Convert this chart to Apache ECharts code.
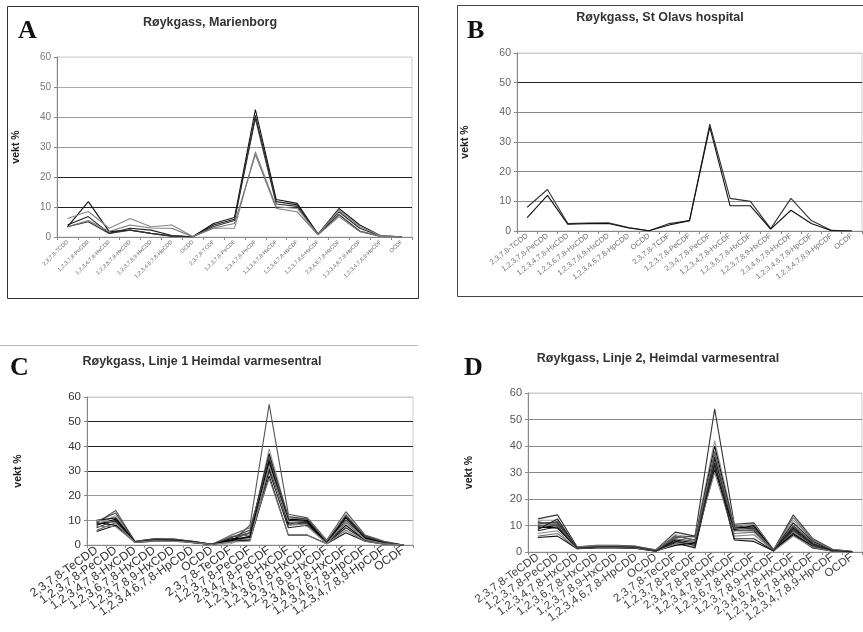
<!DOCTYPE html>
<html><head><meta charset="utf-8">
<script src="https://cdn.jsdelivr.net/npm/echarts@6/dist/echarts.min.js"></script>
<style>html,body{margin:0;padding:0;background:#fff}#c{width:863px;height:632px}</style>
</head><body><div id="c"></div>
<script>
// Categories
const catsTCDD = ['2,3,7,8-TCDD','1,2,3,7,8-PeCDD','1,2,3,4,7,8-HxCDD','1,2,3,6,7,8-HxCDD','1,2,3,7,8,9-HxCDD','1,2,3,4,6,7,8-HpCDD','OCDD','2,3,7,8-TCDF','1,2,3,7,8-PeCDF','2,3,4,7,8-PeCDF','1,2,3,4,7,8-HxCDF','1,2,3,6,7,8-HxCDF','1,2,3,7,8,9-HxCDF','2,3,4,6,7,8-HxCDF','1,2,3,4,6,7,8-HpCDF','1,2,3,4,7,8,9-HpCDF','OCDF'];
const catsTeCDD = ['2,3,7,8-TeCDD','1,2,3,7,8-PeCDD','1,2,3,4,7,8-HxCDD','1,2,3,6,7,8-HxCDD','1,2,3,7,8,9-HxCDD','1,2,3,4,6,7,8-HpCDD','OCDD','2,3,7,8-TeCDF','1,2,3,7,8-PeCDF','2,3,4,7,8-PeCDF','1,2,3,4,7,8-HxCDF','1,2,3,6,7,8-HxCDF','1,2,3,7,8,9-HxCDF','2,3,4,6,7,8-HxCDF','1,2,3,4,6,7,8-HpCDF','1,2,3,4,7,8,9-HpCDF','OCDF'];
const yTicks = [0,10,20,30,40,50,60];

// Panel A: Røykgass, Marienborg
const A1 = [3.4, 11.8, 1.8, 2.3, 1.2, 0.3, 0.1, 4.5, 6.5, 42.5, 12.5, 11.2, 1.0, 9.5, 4.0, 0.4, 0.1];
const A2 = [4.0, 6.8, 1.2, 2.9, 2.3, 0.5, 0.1, 4.0, 5.9, 40.5, 11.8, 10.7, 0.9, 8.4, 2.9, 0.3, 0.1];
const A3 = [3.4, 5.1, 1.2, 2.3, 1.2, 0.3, 0.1, 3.5, 5.5, 39.5, 11.0, 10.2, 0.8, 7.5, 2.0, 0.2, 0.1];
const A4 = [6.2, 8.5, 2.9, 6.2, 3.4, 4.0, 0.2, 2.9, 2.9, 28.4, 10.1, 9.5, 0.8, 9.0, 3.5, 0.4, 0.1];
const A5 = [3.4, 5.5, 1.8, 4.0, 3.0, 2.9, 0.1, 3.0, 4.5, 27.5, 9.5, 8.4, 0.7, 6.8, 1.8, 0.2, 0.1];

// Panel B: Røykgass, St Olavs hospital
const B1 = [8.0, 14.0, 2.5, 2.7, 2.8, 1.2, 0.1, 2.5, 3.5, 36, 11.0, 10.0, 0.8, 11.0, 3.5, 0.2, 0];
const B2 = [4.5, 12.0, 2.3, 2.5, 2.5, 1.0, 0.1, 2.0, 3.5, 35, 8.5, 8.5, 0.6, 7.0, 2.5, 0.1, 0];

// Panel C: Røykgass, Linje 1 Heimdal varmesentral
const C1 = [9.0, 14.0, 1.5, 2.5, 2.5, 1.5, 0.3, 1.0, 8.0, 57, 12.5, 11.0, 2.0, 13.5, 4.0, 1.5, 0];
const C2 = [8.0, 12.0, 1.2, 2.0, 2.2, 1.2, 0.2, 0.5, 4.0, 39, 11.0, 10.5, 1.5, 12.5, 3.0, 1.0, 0];
const C3 = [10.0, 11.0, 1.3, 2.0, 2.0, 1.5, 0.3, 2.0, 5.0, 37, 10.0, 9.5, 1.0, 11.5, 3.5, 1.0, 0];
const C4 = [7.0, 10.0, 1.0, 1.8, 1.8, 1.0, 0.2, 3.0, 6.0, 35, 9.0, 9.0, 1.0, 10.0, 3.0, 0.8, 0];
const C5 = [6.0, 9.0, 1.1, 1.5, 1.5, 1.0, 0.2, 4.0, 7.0, 33, 8.0, 8.5, 0.8, 9.0, 2.5, 0.5, 0];
const C6 = [9.0, 8.0, 1.2, 2.0, 2.0, 1.3, 0.3, 2.5, 3.0, 31, 10.5, 10.0, 0.7, 8.0, 2.0, 0.5, 0];
const C7 = [8.5, 9.5, 1.0, 1.5, 1.7, 1.1, 0.2, 1.5, 2.0, 30, 7.0, 8.0, 0.6, 7.0, 2.0, 0.4, 0];
const C8 = [5.5, 8.0, 1.3, 2.2, 2.0, 0.9, 0.2, 2.0, 2.0, 28, 4.0, 4.0, 0.5, 5.0, 1.5, 0.3, 0];
const C9 = [7.5, 7.5, 1.0, 1.5, 1.5, 1.0, 0.2, 3.5, 4.0, 27, 4.0, 4.0, 0.5, 6.0, 1.5, 0.3, 0];
const C10 = [9.5, 13.0, 1.4, 2.5, 2.3, 1.4, 0.3, 3.0, 5.0, 36, 11.5, 10.5, 1.2, 12.0, 3.5, 1.2, 0];
const C11 = [8.0, 10.5, 1.2, 1.8, 1.9, 1.2, 0.2, 1.8, 3.5, 34, 8.5, 9.0, 0.9, 11.0, 2.8, 0.8, 0];
const C12 = [10.0, 9.0, 1.1, 1.7, 1.6, 1.1, 0.2, 1.2, 1.5, 32, 9.5, 7.5, 0.6, 9.5, 2.2, 0.6, 0];

// Panel D: Røykgass, Linje 2, Heimdal varmesentral
const D1 = [12.5, 14.0, 2.0, 2.5, 2.5, 2.2, 0.8, 7.5, 6.0, 54, 10.5, 11.0, 0.8, 14.0, 5.0, 1.0, 0.2];
const D2 = [12.0, 12.0, 1.8, 2.3, 2.3, 2.0, 0.6, 6.5, 5.5, 42, 10.0, 10.5, 0.6, 12.0, 4.5, 0.8, 0.2];
const D3 = [11.0, 11.0, 1.5, 2.0, 2.0, 1.8, 0.5, 6.0, 4.5, 40, 9.0, 9.5, 0.5, 11.0, 4.0, 0.7, 0.2];
const D4 = [10.0, 10.5, 1.5, 2.0, 2.0, 1.7, 0.5, 5.0, 4.0, 38, 8.5, 9.0, 0.5, 10.0, 3.5, 0.6, 0.1];
const D5 = [9.0, 10.0, 1.4, 1.8, 1.9, 1.6, 0.4, 4.5, 3.5, 36, 9.5, 8.5, 0.5, 9.0, 3.0, 0.5, 0.1];
const D6 = [8.0, 9.5, 1.3, 1.7, 1.8, 1.5, 0.4, 4.0, 3.0, 35, 8.0, 8.0, 0.4, 8.5, 2.5, 0.5, 0.1];
const D7 = [6.0, 7.0, 1.2, 1.6, 1.6, 1.4, 0.3, 3.0, 2.0, 34, 7.0, 7.5, 0.4, 7.5, 2.0, 0.4, 0.1];
const D8 = [5.5, 6.0, 1.2, 1.5, 1.5, 1.3, 0.3, 3.5, 1.5, 33, 4.5, 4.0, 0.4, 6.5, 1.5, 0.3, 0.1];
const D9 = [10.5, 11.5, 1.6, 2.1, 2.1, 1.9, 0.5, 5.5, 6.0, 32, 10.0, 9.0, 0.6, 8.0, 2.5, 0.5, 0.1];
const D10 = [9.5, 9.0, 1.5, 1.9, 1.9, 1.7, 0.5, 2.5, 3.5, 31, 8.5, 10.0, 0.5, 7.0, 2.0, 0.4, 0.1];
const D11 = [7.0, 8.0, 1.3, 1.7, 1.7, 1.5, 0.4, 3.0, 4.0, 30, 6.0, 6.5, 0.4, 6.0, 1.8, 0.3, 0.1];
const D12 = [11.5, 10.0, 1.7, 2.2, 2.2, 2.0, 0.6, 6.0, 4.5, 37, 9.0, 8.5, 0.6, 13.0, 4.5, 0.9, 0.2];
const D13 = [8.5, 12.5, 1.4, 1.9, 2.0, 1.8, 0.4, 4.0, 2.5, 33.5, 5.0, 5.0, 0.4, 9.5, 3.0, 0.5, 0.1];

const titles = ['Røykgass, Marienborg','Røykgass, St Olavs hospital','Røykgass, Linje 1 Heimdal varmesentral','Røykgass, Linje 2, Heimdal varmesentral'];
const letters = ['A','B','C','D'];

const panels = [
  {series:[A1,A2,A3,A4,A5], colors:['#111','#222','#333','#888','#777'], cats:catsTCDD},
  {series:[B1,B2], colors:['#333','#111'], cats:catsTCDD},
  {series:[C1,C2,C3,C4,C5,C6,C7,C8,C9,C10,C11,C12], colors:['#555','#999','#111','#333','#666','#000','#222','#111','#777','#444','#000','#888'], cats:catsTeCDD},
  {series:[D1,D2,D3,D4,D5,D6,D7,D8,D9,D10,D11,D12,D13], colors:['#333','#999','#111','#555','#000','#222','#777','#111','#444','#000','#888','#666','#222'], cats:catsTeCDD}
];

const layout = [
  {grid:{left:57, top:57, width:355, height:180}, lblFont:5.5, lblColor:'#666', rot:45, yFont:10, yColor:'#777', nameGap:35, split:['#777','#222','#222','#999','#999','#aaa','#ddd']},
  {grid:{left:517, top:53, width:345, height:178}, lblFont:7.5, lblColor:'#777', rot:38, yFont:10.5, yColor:'#666', nameGap:46, split:['#777','#888','#888','#888','#888','#222','#ccc']},
  {grid:{left:87, top:397, width:326, height:148}, lblFont:12, lblColor:'#333', rot:35, yFont:11.5, yColor:'#333', nameGap:63, split:['#777','#999','#999','#222','#222','#222','#ccc']},
  {grid:{left:528, top:393, width:334, height:159}, lblFont:11.5, lblColor:'#444', rot:36, yFont:11, yColor:'#555', nameGap:53, split:['#777','#888','#888','#888','#888','#888','#ccc']}
];

const titlePos = [[210,16],[660,11],[202,355],[658,352]];
const letterPos = [[18,18],[467,18],[10,355],[464,355]];

const grids=[], xAxes=[], yAxes=[], series=[], graphics=[];
panels.forEach((p,i)=>{
  const L = layout[i];
  grids.push(Object.assign({show:true, borderColor:'#ccc', borderWidth:1, containLabel:false}, L.grid));
  xAxes.push({type:'category', gridIndex:i, data:p.cats, boundaryGap:true,
    axisLine:{lineStyle:{color:'#888', width:1}}, axisTick:{show:true, alignWithLabel:false, length:3, lineStyle:{color:'#888'}},
    axisLabel:{rotate:L.rot, fontSize:L.lblFont, color:L.lblColor, fontFamily:'Liberation Sans, Arial', interval:0, margin:4}});
  yAxes.push({type:'value', gridIndex:i, min:yTicks[0], max:yTicks[yTicks.length-1], interval:yTicks[1]-yTicks[0],
    name:'vekt %', nameLocation:'middle', nameGap:L.nameGap, nameRotate:90,
    nameTextStyle:{fontSize:10.5, fontWeight:'bold', color:'#222', fontFamily:'Liberation Sans, Arial'},
    axisLine:{show:true, lineStyle:{color:'#888'}}, axisTick:{show:true, length:3, lineStyle:{color:'#888'}},
    axisLabel:{fontSize:L.yFont, color:L.yColor, fontFamily:'Liberation Sans, Arial', margin:6},
    splitLine:{show:true, lineStyle:{color:L.split, width:1.2}}});
  p.series.forEach((d,k)=>{
    series.push({type:'line', xAxisIndex:i, yAxisIndex:i, data:d, symbol:'none', smooth:false,
      lineStyle:{width:1.1, color:p.colors[k % p.colors.length]}, z:3, silent:true});
  });
  graphics.push({type:'text', x:titlePos[i][0], y:titlePos[i][1], style:{text:titles[i], textAlign:'center', fill:'#333', font:'bold 12.5px "Liberation Sans", Arial'}});
  graphics.push({type:'text', x:letterPos[i][0], y:letterPos[i][1], style:{text:letters[i], fill:'#111', font:'bold 26px "Liberation Serif", "Times New Roman", serif'}});
});
// panel frames
graphics.push({type:'rect', shape:{x:7.5, y:6.5, width:411, height:292}, style:{fill:'none', stroke:'#333', lineWidth:1}, z:-1});
graphics.push({type:'rect', shape:{x:457.5, y:5.5, width:410, height:291}, style:{fill:'none', stroke:'#444', lineWidth:1}, z:-1});
graphics.push({type:'line', shape:{x1:0, y1:345.5, x2:418, y2:345.5}, style:{stroke:'#bbb', lineWidth:1}, z:-1});

const chart = echarts.init(document.getElementById('c'), null, {renderer:'canvas'});
chart.setOption({animation:false, backgroundColor:'#fff', grid:grids, xAxis:xAxes, yAxis:yAxes, series:series, graphic:graphics});
</script></body></html>
